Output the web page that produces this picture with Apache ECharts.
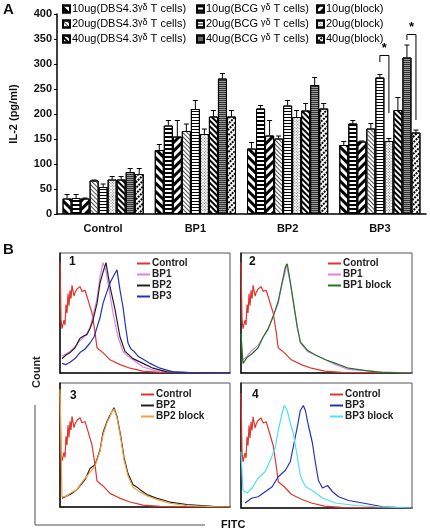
<!DOCTYPE html>
<html><head><meta charset="utf-8">
<script src="https://cdn.jsdelivr.net/npm/echarts@6/dist/echarts.min.js"></script>
<style>html,body{margin:0;padding:0;background:#fff}#c{width:430px;height:532px}</style>
</head><body><div id="c"></div>
<script>
// ---------- Panel A data ----------
const categories = ['Control', 'BP1', 'BP2', 'BP3'];
const seriesNames = [
  '10ug(DBS4.3γδ T cells)', '10ug(BCG γδ T cells)', '10ug(block)',
  '20ug(DBS4.3γδ T cells)', '20ug(BCG γδ T cells)', '20ug(block)',
  '40ug(DBS4.3γδ T cells)', '40ug(BCG γδ T cells)', '40ug(block)'
];
const dbs10 = [31, 128, 131, 138];
const bcg10 = [32, 177, 211, 181];
const block10 = [31, 155, 157, 145];
const dbs20 = [67, 166, 151, 171];
const bcg20 = [54, 210, 217, 273];
const block20 = [69, 160, 194, 146];
const dbs40 = [69, 195, 207, 208];
const bcg40 = [84, 271, 258, 313];
const block40 = [80, 195, 211, 163];
const dbs10Err = [8, 11, 12, 7];
const bcg10Err = [7, 10, 6, 6];
const block10Err = [1, 32, 30, 1];
const dbs20Err = [1, 14, 5, 10];
const bcg20Err = [6, 17, 10, 6];
const block20Err = [6, 10, 13, 5];
const dbs40Err = [6, 12, 14, 25];
const bcg40Err = [7, 10, 15, 25];
const block40Err = [11, 12, 10, 5];
const yTicks = [0, 50, 100, 150, 200, 250, 300, 350, 400];
// significance: [category, seriesA, seriesB, bracketTop, legA bottom, legB bottom]
const sigPairs = [[3, 4, 5, 317, 304, 202], [3, 7, 8, 359, 348, 188]];

// ---------- Panel B data (FITC channel, % of max count) ----------
const control = [[0,92],[1,45],[2,37],[4,44],[5,40],[6,57],[7,50],[8,66],[9,56],[10,69],[11,62],[12,73],[14,64],[15,67],[17,70],[20,72],[22,68],[25,69],[28,61],[32,50],[35,34],[37,21],[40,19],[43,17],[50,11],[60,7],[70,4],[83,1.5],[100,0.5],[170,0]];
const p1BP1 = [[2,14],[6,16],[10,18],[15,22],[20,27],[24,30],[27,33],[30,38],[33,47],[37,62],[40,80],[43,92],[46,85],[50,65],[53,50],[58,30],[63,18],[68,14],[73,11],[83,5],[95,2],[115,0.5],[170,0]];
const p1BP2 = [[2,12],[6,15],[10,17],[15,21],[20,29],[24,31],[27,32],[30,37],[33,44],[37,58],[40,75],[43,84],[46,92],[50,72],[55,53],[60,30],[65,18],[73,12],[83,8],[93,4],[107,1],[130,0.3],[170,0]];
const p1BP3 = [[2,8],[6,7],[10,9],[15,12],[20,17],[25,20],[30,25],[34,30],[37,38],[40,46],[43,58],[47,68],[50,75],[53,80],[57,86],[60,69],[63,55],[65,42],[68,25],[71,20],[74,18],[78,14],[84,11],[90,8],[100,4],[113,1],[130,0.3],[170,0]];
const p2BP1 = [[2,11],[6,14],[11,19],[17,23],[22,30],[27,36],[32,48],[37,58],[41,75],[44,84],[45,91],[49,75],[52,58],[56,38],[59,25],[66,18],[74,15],[84,11],[94,7],[107,3],[124,2],[137,1],[170,0]];
const p2BP1Block = [[0,33],[2,8],[6,13],[11,16],[17,21],[22,30],[27,37],[32,47],[37,60],[41,76],[44,88],[46,91],[49,76],[52,60],[56,38],[59,26],[66,19],[74,15],[84,11],[94,8],[107,4],[124,2],[140,0.5],[170,0]];
const p3BP2 = [[2,7],[7,9],[12,11],[17,14],[21,18],[25,22],[30,31],[35,34],[40,46],[43,60],[47,69],[50,74],[52,77],[54,80],[57,73],[61,56],[64,40],[68,27],[73,18],[77,16],[80,14],[87,10],[97,7],[110,4],[127,2],[153,0.5],[170,0]];
const p3BP2Block = [[0,95],[2,8],[7,9],[12,12],[17,14],[21,19],[25,23],[30,28],[35,33],[40,45],[43,58],[47,68],[50,73],[52,77],[54,79],[57,72],[61,54],[64,38],[68,25],[73,16],[80,12],[87,9],[97,6],[110,3],[127,1],[153,0.3],[170,0]];
const p4BP3 = [[4,4],[11,8],[17,9],[24,13],[31,17],[37,25],[44,30],[49,37],[52,49],[56,65],[59,78],[62,82],[64,78],[67,66],[71,52],[74,36],[77,22],[81,16],[86,18],[91,13],[97,9],[107,6],[121,4],[141,1],[170,0]];
const p4BP3Block = [[0,45],[2,14],[6,12],[11,16],[17,24],[24,29],[29,38],[34,48],[37,62],[41,76],[43,82],[46,78],[49,68],[52,60],[56,41],[59,26],[64,17],[71,14],[81,8],[94,4],[114,2],[134,1],[170,0]];

// ---------- build ----------
const barValues = [dbs10, bcg10, block10, dbs20, bcg20, block20, dbs40, bcg40, block40];
const barErrs = [dbs10Err, bcg10Err, block10Err, dbs20Err, bcg20Err, block20Err, dbs40Err, bcg40Err, block40Err];
const P = Math.PI / 4;
const decals = [
  {symbol:'rect', color:'#000', dashArrayX:[1,0], dashArrayY:[2.5,3], rotation:P},
  {symbol:'rect', color:'#000', dashArrayX:[1,0], dashArrayY:[2,2]},
  {symbol:'rect', color:'#000', dashArrayX:[1,0], dashArrayY:[2.5,3], rotation:-P},
  {symbol:'rect', color:'#555', dashArrayX:[1,0], dashArrayY:[1,1.5], rotation:P},
  {symbol:'rect', color:'#000', dashArrayX:[1,0], dashArrayY:[1,2]},
  {symbol:'rect', color:'#666', dashArrayX:[1,1], dashArrayY:[1,1], rotation:-P},
  {symbol:'rect', color:'#000', dashArrayX:[1,0], dashArrayY:[1.5,1.2], rotation:P},
  {symbol:'rect', color:'#333', dashArrayX:[1,0], dashArrayY:[1,1]},
  {symbol:'rect', color:'#000', dashArrayX:[2,1], dashArrayY:[1.5,1.2], rotation:-P}
];
const fills = ['#fff','#fff','#fff','#fff','#fff','#fff','#fff','#999','#fff'];
const CAT_GAP = 0.12, NB = 9;
function barX(api, ci, si, v) {
  const c = api.coord([ci, v]);
  const band = api.size([1, 0])[0];
  const gw = band * (1 - CAT_GAP), bw = gw / NB;
  return [c[0] - gw / 2 + (si + 0.5) * bw, c[1]];
}
const errData = [];
barValues.forEach((arr, si) => arr.forEach((v, ci) => errData.push([ci, si, v, barErrs[si][ci]])));

const font = 'Arial, "Liberation Sans", sans-serif';
const series = [];
barValues.forEach((arr, si) => {
  series.push({
    type:'bar', name:seriesNames[si], data:arr, xAxisIndex:0, yAxisIndex:0,
    barGap:'0%', barCategoryGap:(CAT_GAP*100)+'%',
    itemStyle:{color:fills[si], borderColor:'#000', borderWidth:1, decal:decals[si]},
    emphasis:{disabled:true}
  });
});
series.push({
  type:'custom', xAxisIndex:0, yAxisIndex:0, data:errData, encode:{x:0, y:2}, z:5, silent:true,
  renderItem(params, api) {
    const ci = api.value(0), si = api.value(1), v = api.value(2), e = api.value(3);
    const b = barX(api, ci, si, v), t = barX(api, ci, si, v + e);
    return {type:'group', children:[
      {type:'line', shape:{x1:b[0], y1:b[1], x2:t[0], y2:t[1]}, style:{stroke:'#000', lineWidth:1}},
      {type:'line', shape:{x1:t[0]-2.5, y1:t[1], x2:t[0]+2.5, y2:t[1]}, style:{stroke:'#000', lineWidth:1}}
    ]};
  }
});
series.push({
  type:'custom', xAxisIndex:0, yAxisIndex:0, data:sigPairs, encode:{x:0, y:3}, z:6, silent:true,
  renderItem(params, api) {
    const ci = api.value(0), a = api.value(1), b = api.value(2);
    const top = api.value(3), ya = api.value(4), yb = api.value(5);
    const pa = barX(api, ci, a, ya), pb = barX(api, ci, b, yb), pt = barX(api, ci, a, top);
    return {type:'group', children:[
      {type:'polyline', shape:{points:[[pa[0], pa[1]], [pa[0], pt[1]], [pb[0], pt[1]], [pb[0], pb[1]]]}, style:{stroke:'#000', lineWidth:1, fill:null}},
      {type:'text', style:{x:(pa[0]+pb[0])/2, y:pt[1]-1, text:'*', font:'bold 13px ' + font, fill:'#000', align:'center', verticalAlign:'bottom'}}
    ]};
  }
});

// panel B series
const panelCurves = [
  [['Control', control, '#e3342c'], ['BP1', p1BP1, '#e27ee6'], ['BP2', p1BP2, '#222'], ['BP3', p1BP3, '#2233bb']],
  [['Control', control, '#e3342c'], ['BP1', p2BP1, '#e27ee6'], ['BP1 block', p2BP1Block, '#1d7a22']],
  [['Control', control, '#e3342c'], ['BP2', p3BP2, '#222'], ['BP2 block', p3BP2Block, '#f2a040']],
  [['Control', control, '#e3342c'], ['BP3', p4BP3, '#2233bb'], ['BP3 block', p4BP3Block, '#4de3ee']]
];
panelCurves.forEach((curves, k) => {
  curves.forEach(([name, data, color]) => {
    series.push({type:'line', name, data, xAxisIndex:k+1, yAxisIndex:k+1, showSymbol:false, symbol:'none',
      lineStyle:{color, width:1.2}, itemStyle:{color}, silent:true, z:3});
  });
});

const grids = [
  {left:48, top:14, right:4, height:200},
  {left:60, top:253, width:170, height:120, show:true, borderColor:'#555', borderWidth:1},
  {left:241, top:253, width:171, height:120, show:true, borderColor:'#555', borderWidth:1},
  {left:60, top:383, width:170, height:124, show:true, borderColor:'#555', borderWidth:1},
  {left:241, top:383, width:171, height:125, show:true, borderColor:'#555', borderWidth:1}
];
const xAxes = [{
  type:'category', data:categories, gridIndex:0,
  axisLine:{lineStyle:{color:'#000', width:1.5}},
  axisTick:{inside:true, length:4, lineStyle:{color:'#000'}},
  axisLabel:{color:'#111', fontWeight:'bold', fontSize:11, fontFamily:font, margin:9}
}];
const yAxes = [{
  type:'value', gridIndex:0, min:yTicks[0], max:yTicks[yTicks.length-1], interval:yTicks[1]-yTicks[0],
  name:'IL-2 (pg/ml)', nameLocation:'middle', nameGap:38, nameRotate:90,
  nameTextStyle:{color:'#111', fontWeight:'bold', fontSize:11, fontFamily:font},
  axisLine:{show:true, lineStyle:{color:'#000', width:1.5}},
  axisTick:{show:true, length:3, lineStyle:{color:'#000'}},
  axisLabel:{color:'#111', fontWeight:'bold', fontSize:11, fontFamily:font, margin:5},
  splitLine:{show:false}
}];
for (let k = 1; k <= 4; k++) {
  xAxes.push({type:'value', gridIndex:k, min:0, max:170, axisLine:{lineStyle:{color:'#111', width:1.5}},
    axisTick:{show:false}, axisLabel:{show:false}, splitLine:{show:false}});
  yAxes.push({type:'value', gridIndex:k, min:0, max:100, axisLine:{show:true, lineStyle:{color:'#111', width:1.5}},
    axisTick:{show:false}, axisLabel:{show:false}, splitLine:{show:false}});
}

const gdRich = {g:{fontSize:9, fontFamily:font, color:'#000', verticalAlign:'top'}};
const barLegend = (left, idx) => ({
  left, top:3, padding:0, orient:'vertical', icon:'rect', itemWidth:7, itemHeight:7, itemGap:3,
  data:idx.map(i => seriesNames[i]), selectedMode:false,
  formatter:n => n.replace('γδ', '{g|γδ}'),
  textStyle:{fontSize:11, fontFamily:font, color:'#000', lineHeight:12, padding:[0,0,0,-3], rich:gdRich}
});
const lineLegend = (left, top, names) => ({
  left, top, padding:0, orient:'vertical', icon:'rect', itemWidth:13, itemHeight:2, itemGap:0,
  data:names, selectedMode:false,
  textStyle:{fontSize:10, fontWeight:'bold', fontFamily:font, color:'#222', lineHeight:11, padding:[0,0,0,-3]}
});

const txt = (x, y, text, size, extra) => Object.assign({type:'text', x, y,
  style:{text, font:'bold ' + size + 'px ' + font, fill:'#111'}}, extra || {});

const option = {
  animation:false,
  backgroundColor:'#fff',
  grid:grids, xAxis:xAxes, yAxis:yAxes,
  legend:[
    barLegend(62, [0,3,6]), barLegend(196, [1,4,7]), barLegend(316, [2,5,8]),
    lineLegend(137, 258, ['Control','BP1','BP2','BP3']),
    lineLegend(328, 258, ['Control','BP1','BP1 block']),
    lineLegend(141, 389, ['Control','BP2','BP2 block']),
    lineLegend(330, 389, ['Control','BP3','BP3 block'])
  ],
  series,
  graphic:[
    txt(3, 2, 'A', 15),
    txt(3, 242, 'B', 15),
    txt(69, 256, '1', 12), txt(249, 256, '2', 12), txt(70, 390, '3', 12), txt(252, 389, '4', 12),
    {type:'text', x:31, y:388, rotation:Math.PI/2, style:{text:'Count', font:'bold 11px ' + font, fill:'#222'}},
    txt(221, 519, 'FITC', 11),
    {type:'line', shape:{x1:35, y1:405, x2:35, y2:525}, style:{stroke:'#888', lineWidth:1.5}},
    {type:'line', shape:{x1:35, y1:525, x2:205, y2:525}, style:{stroke:'#888', lineWidth:1.5}}
  ]
};
const chart = echarts.init(document.getElementById('c'), null, {renderer:'canvas'});
chart.setOption(option);
</script></body></html>
